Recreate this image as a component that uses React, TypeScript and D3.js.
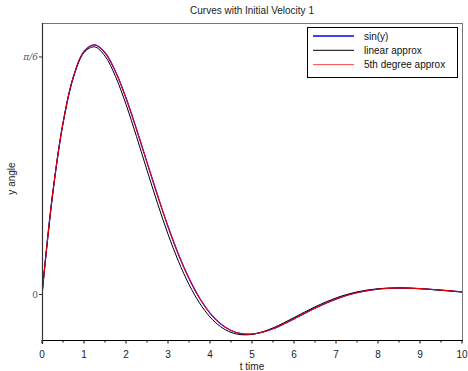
import React from "react";
import * as d3 from "d3";

const tValues = [0, 0.25, 0.5, 0.75, 1, 1.25, 1.5, 1.75, 2, 2.25, 2.5, 2.75, 3, 3.25, 3.5, 3.75, 4, 4.25, 4.5, 4.75, 5, 5.25, 5.5, 5.75, 6, 6.25, 6.5, 6.75, 7, 7.25, 7.5, 7.75, 8, 8.25, 8.5, 8.75, 9, 9.25, 9.5, 9.75, 10];

const sinY = [0, 0.2189, 0.3775, 0.4806, 0.5356, 0.5503, 0.533, 0.4914, 0.4331, 0.3644, 0.2912, 0.2188, 0.1498, 0.0883, 0.0355, -0.0077, -0.0409, -0.0644, -0.0793, -0.0865, -0.0873, -0.0832, -0.0754, -0.0651, -0.0536, -0.0416, -0.0301, -0.0194, -0.01, -0.0021, 0.0041, 0.0087, 0.0119, 0.0136, 0.0143, 0.014, 0.013, 0.0115, 0.0097, 0.0078, 0.0059];

const linearApprox = [0, 0.2189, 0.3774, 0.48, 0.5335, 0.5459, 0.5255, 0.4806, 0.4193, 0.3483, 0.2739, 0.2012, 0.133, 0.073, 0.0221, -0.0187, -0.0495, -0.0708, -0.0835, -0.0887, -0.0879, -0.0825, -0.0737, -0.0628, -0.0509, -0.0388, -0.0272, -0.0167, -0.0076, -0.0001, 0.0057, 0.01, 0.0127, 0.0142, 0.0145, 0.014, 0.0128, 0.0112, 0.0093, 0.0073, 0.0054];

const fifthDegree = [0, 0.2189, 0.3775, 0.4806, 0.5356, 0.5503, 0.533, 0.4914, 0.4331, 0.3644, 0.2912, 0.2188, 0.1498, 0.0883, 0.0355, -0.0077, -0.0409, -0.0644, -0.0793, -0.0865, -0.0873, -0.0832, -0.0754, -0.0651, -0.0536, -0.0416, -0.0301, -0.0194, -0.01, -0.0021, 0.0041, 0.0087, 0.0119, 0.0136, 0.0143, 0.014, 0.013, 0.0115, 0.0097, 0.0078, 0.0059];

const xTicks = [0, 1, 2, 3, 4, 5, 6, 7, 8, 9, 10];
const xMinorTicks = [0.5, 1.5, 2.5, 3.5, 4.5, 5.5, 6.5, 7.5, 8.5, 9.5];
const yTickValues = [0, Math.PI / 6];
const yTickLabels = ["0", "π/6"];
const xDomain = [0, 10];
const yDomain = [-0.1003, 0.5985];

const seriesNames = ["sin(y)", "linear approx", "5th degree approx"];
const seriesColors = ["#0000ff", "#000000", "#ff0000"];
const seriesData = [sinY, linearApprox, fifthDegree];

const W = 468;
const H = 371;
const left = 42;
const right = 462;
const top = 23;
const bottom = 340;

export default function App() {
  const x = d3.scaleLinear().domain(xDomain).range([left, right]);
  const y = d3.scaleLinear().domain(yDomain).range([bottom, top]);

  const line = d3
    .line<number>()
    .x((_, i) => x(tValues[i]))
    .y((d) => y(d))
    .curve(d3.curveCatmullRom.alpha(0.5));

  const sans = "'Liberation Sans', Arial, Helvetica, sans-serif";
  const serif = "'DejaVu Serif', 'Liberation Serif', serif";

  const legendX = 307;
  const legendY = 27;
  const legendW = 150;
  const legendH = 50;

  return (
    <svg
      width={W}
      height={H}
      style={{ position: "absolute", left: 0, top: 0, background: "#fff" }}
    >
      <rect x={0} y={0} width={W} height={H} fill="#fff" />
      <text
        x={(left + right) / 2}
        y={14}
        textAnchor="middle"
        fontFamily={sans}
        fontSize={10}
        fill="#222"
      >
        Curves with Initial Velocity 1
      </text>

      {/* frame: top and right */}
      <line x1={left} x2={right + 0.5} y1={top + 0.5} y2={top + 0.5} stroke="#777" strokeWidth={1} />
      <line x1={right + 0.5} x2={right + 0.5} y1={top} y2={bottom} stroke="#777" strokeWidth={1} />

      <defs>
        <clipPath id="plotclip">
          <rect x={left} y={top} width={right - left + 1} height={bottom - top} />
        </clipPath>
      </defs>

      {/* curves */}
      <g clipPath="url(#plotclip)">
        {seriesData.map((s, i) => (
          <path
            key={i}
            d={line(s) || ""}
            fill="none"
            stroke={seriesColors[i]}
            strokeWidth={i === 0 ? 1.3 : 1}
          />
        ))}
      </g>

      {/* x axis */}
      <line x1={left} x2={right + 1} y1={bottom + 0.5} y2={bottom + 0.5} stroke="#000" strokeWidth={1.2} />
      {xTicks.map((t) => (
        <g key={"xt" + t}>
          <line x1={x(t)} x2={x(t)} y1={bottom} y2={bottom + 3.5} stroke="#000" strokeWidth={1} />
          <text
            x={x(t)}
            y={358}
            textAnchor="middle"
            fontFamily={sans}
            fontSize={10}
            fill="#222"
          >
            {t}
          </text>
        </g>
      ))}
      {xMinorTicks.map((t) => (
        <line key={"xm" + t} x1={x(t)} x2={x(t)} y1={bottom} y2={bottom + 2.5} stroke="#000" strokeWidth={1} />
      ))}
      <text
        x={(left + right) / 2}
        y={370}
        textAnchor="middle"
        fontFamily={sans}
        fontSize={10}
        fill="#222"
      >
        t time
      </text>

      {/* y axis */}
      <line x1={left + 0.5} x2={left + 0.5} y1={top} y2={bottom + 4} stroke="#333" strokeWidth={1.2} />
      {yTickValues.map((v, i) => (
        <g key={"yt" + i}>
          <line x1={left - 3} x2={left} y1={y(v)} y2={y(v)} stroke="#333" strokeWidth={1} />
          <text
            x={left - 4}
            y={y(v) + 3}
            textAnchor="end"
            fontFamily={serif}
            fontStyle={i === 1 ? "italic" : "normal"}
            fontSize={9}
            fill="#555"
          >
            {yTickLabels[i]}
          </text>
        </g>
      ))}
      <text
        transform={`translate(15, ${(top + bottom) / 2 - 3}) rotate(-90)`}
        textAnchor="middle"
        fontFamily={sans}
        fontSize={10}
        fill="#222"
      >
        y angle
      </text>

      {/* legend */}
      <rect
        x={legendX + 0.5}
        y={legendY + 0.5}
        width={legendW}
        height={legendH}
        fill="#fff"
        stroke="#000"
        strokeWidth={1}
      />
      {seriesNames.map((name, i) => {
        const ly = legendY + 9 + i * 14.3;
        return (
          <g key={name}>
            <line
              x1={legendX + 6}
              x2={legendX + 47}
              y1={ly}
              y2={ly}
              stroke={seriesColors[i]}
              strokeWidth={i === 0 ? 1.6 : 1}
              opacity={i === 2 ? 0.7 : 1}
            />
            <text
              x={legendX + 57}
              y={ly + 3.5}
              fontFamily={sans}
              fontSize={10}
              fill="#111"
            >
              {name}
            </text>
          </g>
        );
      })}
    </svg>
  );
}
